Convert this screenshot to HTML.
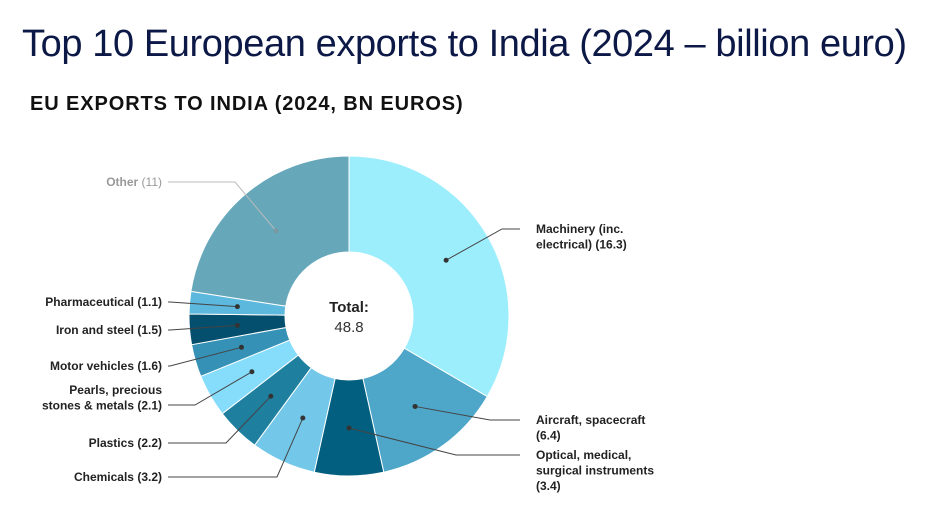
<!DOCTYPE html>
<html><head><meta charset="utf-8"><style>
body{margin:0;width:933px;height:525px;background:#fff;overflow:hidden;font-family:"Liberation Sans",sans-serif}
#t{position:absolute;left:22px;top:23px;font-size:38px;color:#0c1846;font-weight:300;letter-spacing:-0.4px;white-space:nowrap}
#s{position:absolute;left:30px;top:93px;font-size:20px;font-weight:bold;color:#111;letter-spacing:0.9px;white-space:nowrap}
svg{position:absolute;left:0;top:0}
</style></head><body>
<div id="t">Top 10 European exports to India (2024 – billion euro)</div>
<div id="s">EU EXPORTS TO INDIA (2024, BN EUROS)</div>
<svg id="c" width="933" height="525"></svg>
<script>
const categories=["Machinery (inc. electrical)","Aircraft, spacecraft","Optical, medical, surgical instruments","Chemicals","Plastics","Pearls, precious stones & metals","Motor vehicles","Iron and steel","Pharmaceutical","Other"];
const values=[16.3,6.4,3.4,3.2,2.2,2.1,1.6,1.5,1.1,11];
const valueLabels=["16.3","6.4","3.4","3.2","2.2","2.1","1.6","1.5","1.1","11"];
const colors=["#9deefd","#4ea6c9","#035f7f","#73c8ea","#1e7f9f","#86dcfb","#3592b6","#044f6d","#5db8de","#66a8ba"];
const labelLines=[["Machinery (inc.","electrical) (16.3)"],["Aircraft, spacecraft","(6.4)"],["Optical, medical,","surgical instruments","(3.4)"],["Chemicals (3.2)"],["Plastics (2.2)"],["Pearls, precious","stones & metals (2.1)"],["Motor vehicles (1.6)"],["Iron and steel (1.5)"],["Pharmaceutical (1.1)"],["Other (11)"]];
const anchors=[[502,229,1],[490,420,1],[456,455,1],[277,477,0],[226,443,0],[195,405,0],[170,366,0],[170,330,0],[170,302,0],[235,182,0]];
const svg=document.getElementById('c');const NS="http://www.w3.org/2000/svg";
const cx=349,cy=316,R=160,r0=64;
const total=values.reduce((a,b)=>a+b,0);
function pt(a,rr){return [cx+rr*Math.sin(a),cy-rr*Math.cos(a)];}
let acc=0;
values.forEach((v,i)=>{
 const a0=acc/total*2*Math.PI;acc+=v;const a1=acc/total*2*Math.PI;
 const large=a1-a0>Math.PI?1:0;
 const p1=pt(a0,R),p2=pt(a1,R),p3=pt(a1,r0),p4=pt(a0,r0);
 const p=document.createElementNS(NS,'path');
 p.setAttribute('d',`M${p1}A${R},${R} 0 ${large} 1 ${p2}L${p3}A${r0},${r0} 0 ${large} 0 ${p4}Z`);
 p.setAttribute('fill',colors[i]);p.setAttribute('stroke','#fff');p.setAttribute('stroke-width','1');
 
 
 svg.appendChild(p);
 const m=(a0+a1)/2;const d=pt(m,112);
 const an=anchors[i];const right=an[2];const ex=right?520:168;
 const isOther=i===9;const lc=isOther?'#bbb':'#444';
 const l=document.createElementNS(NS,'polyline');
 l.setAttribute('points',`${d} ${an[0]},${an[1]} ${ex},${an[1]}`);
 l.setAttribute('fill','none');l.setAttribute('stroke',lc);l.setAttribute('stroke-width','1');
 
 
 svg.appendChild(l);
 const c=document.createElementNS(NS,'circle');
 c.setAttribute('cx',d[0]);c.setAttribute('cy',d[1]);c.setAttribute('r','2.5');c.setAttribute('fill',isOther?'#7a98a4':'#333');
 
 
 svg.appendChild(c);
 const t=document.createElementNS(NS,'text');
 t.setAttribute('x',right?536:162);t.setAttribute('text-anchor',right?'start':'end');
 t.setAttribute('font-size','12');t.setAttribute('font-weight','bold');t.setAttribute('fill','#222');
 
 
 const lines=labelLines[i];
 const n=lines.length;const y0=an[1]+4-(right?0:(n-1)*15);
 lines.forEach((s,k)=>{const ts=document.createElementNS(NS,'tspan');ts.setAttribute('x',right?536:162);ts.setAttribute('y',y0+k*15.5);
  if(isOther){ts.innerHTML='<tspan fill="#999">Other</tspan><tspan fill="#999" font-weight="normal"> ('+valueLabels[i]+')</tspan>';}else ts.textContent=s;
  t.appendChild(ts);});
 svg.appendChild(t);
});
const tt=document.createElementNS(NS,'text');tt.setAttribute('x',cx);tt.setAttribute('y',cy-4);tt.setAttribute('text-anchor','middle');tt.setAttribute('font-size','15');tt.setAttribute('font-weight','bold');tt.setAttribute('fill','#222');tt.textContent='Total:';


svg.appendChild(tt);
const tv=document.createElementNS(NS,'text');tv.setAttribute('x',cx);tv.setAttribute('y',cy+16);tv.setAttribute('text-anchor','middle');tv.setAttribute('font-size','15');tv.setAttribute('fill','#333');tv.textContent=total.toFixed(1);


svg.appendChild(tv);
</script>
</body></html>
